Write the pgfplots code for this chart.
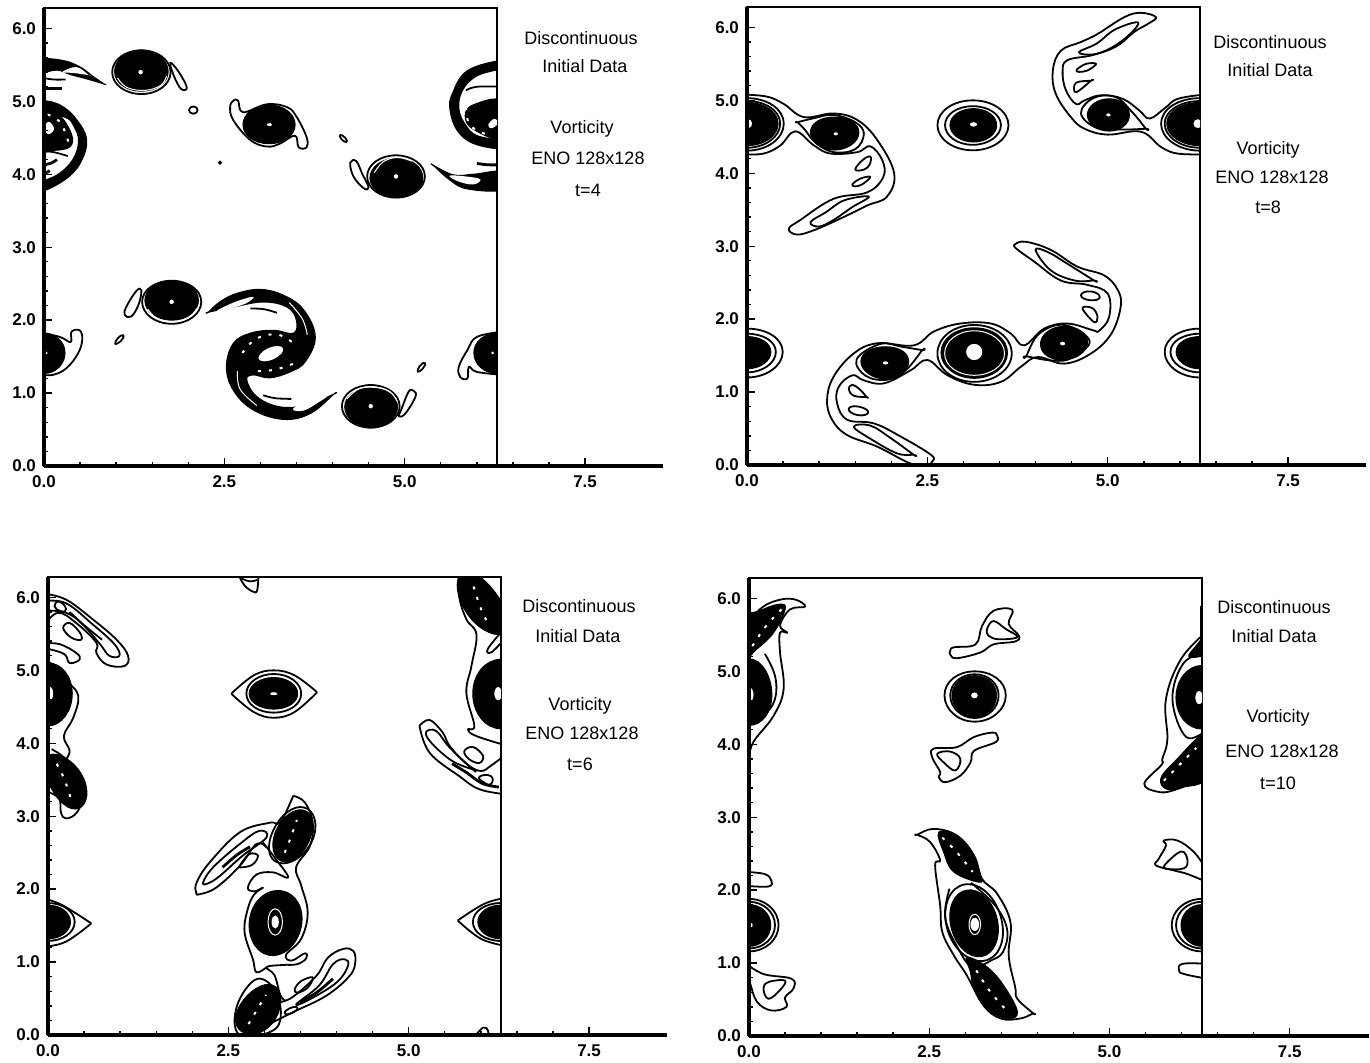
\documentclass[border=0pt]{standalone}
\usepackage{fontspec}
\setmainfont{Liberation Sans}
\usepackage{pgfplots}
\pgfplotsset{compat=1.18}
\tikzset{ln/.style={draw=black,line width=.9pt,line join=round}}
\newcommand\ce[1]{\addplot[ln,smooth cycle,tension=1] coordinates {#1};}
\newcommand\cl[1]{\addplot[ln,smooth cycle,tension=.65] coordinates {#1};}
\newcommand\fb[1]{\addplot[draw=black,fill=black,line width=.6pt,smooth cycle,tension=1] coordinates {#1};}
\newcommand\fp[1]{\addplot[draw=black,fill=black,line width=.6pt,line join=round,smooth cycle,tension=.65] coordinates {#1};}
\newcommand\fw[1]{\addplot[draw=black,fill=white,line width=.5pt,smooth cycle,tension=1] coordinates {#1};}
\newcommand\ho[1]{\addplot[draw=none,fill=white,smooth cycle,tension=1] coordinates {#1};}
\newcommand\hp[1]{\addplot[draw=none,fill=white,smooth cycle,tension=.65] coordinates {#1};}
\newcommand\op[1]{\addplot[ln,smooth,tension=.65] coordinates {#1};}
\newcommand\tk[1]{\addplot[draw=black,line width=1.4pt,smooth,tension=.65] coordinates {#1};}
\newcommand\wl[1]{\addplot[draw=white,line width=.5pt,smooth,tension=.65] coordinates {#1};}
\newcommand\we[1]{\addplot[draw=white,line width=.5pt,smooth cycle,tension=1] coordinates {#1};}
\newcommand\wdt[1]{\addplot[draw=white,line width=1pt,dash pattern=on 1.5pt off 4pt,smooth,tension=.65] coordinates {#1};}
\pgfplotsset{
 cont/.style={scale only axis,width=226.5pt,height=229pt,xmin=0,xmax=6.28,ymin=0,ymax=6.28,
   xtick=\empty,ytick=\empty,axis line style={line width=1.1pt},anchor=south west},
 fram/.style={scale only axis,width=309.5pt,height=229pt,xmin=0,xmax=8.58,ymin=0,ymax=6.28,
   anchor=south west,axis x line*=bottom,axis y line*=left,axis line style={line width=1.6pt},
   xtick={0,2.5,5,7.5},ytick={0,1,2,3,4,5,6},minor x tick num=4,minor y tick num=4,
   tick align=inside,major tick length=4pt,minor tick length=2pt,tick style={line width=.7pt,black},
   tick label style={font=\fontsize{8.5}{9}\selectfont\bfseries,
     /pgf/number format/assume math mode=true,/pgf/number format/fixed,
     /pgf/number format/fixed zerofill,/pgf/number format/precision=1},
   xticklabel style={yshift=-1.5pt},yticklabel style={xshift=-.5pt}}
}
\tikzset{lab/.style={font=\fontsize{9}{10}\selectfont,inner sep=0pt}}
\begin{document}
\begin{tikzpicture}[x=1pt,y=1pt]
\path[use as bounding box] (0,0) rectangle (685,531);
%% ---------- t=4 ----------
\begin{axis}[cont,at={(22pt,298pt)}]
\ce{(1.755,5.40)(1.35,5.70)(.945,5.40)(1.35,5.10)}
\fb{(1.72,5.41)(1.35,5.70)(.98,5.41)(1.35,5.14)}
\wl{(1.02,5.32)(1.15,5.19)(1.40,5.15)(1.62,5.22)(1.70,5.35)}
\fw{(1.38,5.40)(1.34,5.44)(1.30,5.40)(1.34,5.36)}
\cl{(1.75,5.53)(1.87,5.40)(1.98,5.19)(1.90,5.17)(1.80,5.35)}
\cl{(2.58,4.92)(2.625,5.01)(2.69,5.01)(2.76,4.85)(3.09,4.96)(3.37,4.92)(3.50,4.79)(3.64,4.51)(3.64,4.37)(3.53,4.37)(3.48,4.53)(3.27,4.42)(3.09,4.38)(2.86,4.47)(2.625,4.74)}
\fb{(3.48,4.68)(3.12,4.95)(2.76,4.68)(3.12,4.42)}
\fw{(3.17,4.68)(3.125,4.71)(3.08,4.68)(3.125,4.65)}
\ce{(5.28,3.97)(4.88,4.26)(4.48,3.97)(4.88,3.68)}
\fb{(5.25,3.95)(4.89,4.22)(4.52,3.95)(4.89,3.68)}
\wl{(4.58,4.02)(4.70,4.17)(4.90,4.23)(5.10,4.18)}
\fw{(4.92,3.97)(4.88,4.01)(4.84,3.97)(4.88,3.93)}
\cl{(4.245,4.16)(4.33,4.18)(4.41,4.01)(4.50,3.82)(4.43,3.81)(4.29,3.97)}
\ce{(2.18,2.25)(1.77,2.54)(1.36,2.25)(1.77,1.95)}
\fb{(2.14,2.27)(1.77,2.54)(1.40,2.27)(1.77,2.00)}
\wl{(1.44,2.15)(1.56,2.03)(1.78,1.98)(2.00,2.03)(2.12,2.16)}
\fw{(1.81,2.25)(1.77,2.29)(1.73,2.25)(1.77,2.21)}
\cl{(1.35,2.41)(1.28,2.40)(1.14,2.18)(1.12,2.07)(1.21,2.05)(1.31,2.21)}
\ce{(4.93,.82)(4.53,1.11)(4.13,.82)(4.53,.525)}
\fb{(4.90,.81)(4.53,1.07)(4.17,.81)(4.53,.53)}
\wl{(4.20,.92)(4.35,1.05)(4.55,1.08)(4.78,1.03)(4.90,.88)}
\fw{(4.57,.82)(4.53,.86)(4.49,.82)(4.53,.78)}
\cl{(5.125,1.03)(5.055,1.02)(4.96,.79)(4.92,.68)(5.01,.72)(5.15,.95)}
\ce{(2.13,4.88)(2.07,4.93)(2.01,4.88)(2.07,4.83)}
\ce{(4.20,4.46)(4.14,4.53)(4.10,4.52)(4.16,4.45)}
\ce{(1.10,1.76)(1.07,1.79)(.99,1.70)(1.02,1.68)}
\ce{(5.28,1.38)(5.25,1.41)(5.18,1.32)(5.21,1.30)}
\fb{(2.46,4.16)(2.44,4.18)(2.42,4.16)(2.44,4.14)}
% edge vortices y=1.55
\op{(-.05,1.83)(.22,1.77)(.37,1.70)(.38,1.84)(.495,1.86)(.53,1.73)(.47,1.54)(.31,1.34)(.125,1.25)(-.05,1.25)}
\fb{(.29,1.55)(0,1.82)(-.29,1.55)(0,1.27)}
\ho{(.05,1.55)(.03,1.57)(.01,1.55)(.03,1.53)}
\op{(6.35,1.84)(6.0,1.77)(5.87,1.59)(5.75,1.36)(5.77,1.22)(5.87,1.20)(5.89,1.36)(6.0,1.29)(6.35,1.25)}
\fb{(5.96,1.55)(6.28,1.82)(6.6,1.55)(6.28,1.27)}
\ho{(6.24,1.55)(6.22,1.57)(6.20,1.55)(6.22,1.53)}
% crescents
\fp{(-.05,5.57)(.26,5.56)(.5,5.47)(.68,5.34)(.83,5.24)(.83,5.24)(.59,5.31)(.36,5.37)(.18,5.43)(-.05,5.40)}
\hp{(.25,5.40)(.45,5.47)(.62,5.36)(.62,5.36)(.40,5.39)}
\op{(-.05,5.33)(.12,5.30)(.3,5.30)}
\tk{(0,5.18)(.12,5.18)(.25,5.18)}
\fp{(5.40,4.12)(5.40,4.12)(5.68,3.99)(5.96,4.0)(6.35,4.03)(6.35,3.79)(5.87,3.80)(5.63,3.92)}
\hp{(5.62,3.98)(5.85,3.97)(6.05,3.93)(5.95,3.86)(5.75,3.90)}
\tk{(6.0,4.15)(6.15,4.13)(6.35,4.13)}
% left spiral
\fp{(-.05,5.0)(.22,4.95)(.45,4.75)(.59,4.47)(.5,4.15)(.28,3.92)(-.05,3.76)(-.05,3.88)(.2,4.0)(.4,4.2)(.48,4.45)(.42,4.65)(.3,4.78)(-.05,4.85)}
\fp{(-.05,4.88)(.2,4.82)(.38,4.55)(.36,4.38)(.15,4.33)(-.05,4.36)}
\hp{(.14,4.62)(.07,4.72)(0,4.64)(.06,4.55)}
\wdt{(.05,4.82)(.22,4.72)(.32,4.5)(.35,4.38)}
\tk{(0,4.13)(.09,4.15)(.18,4.2)}
\tk{(0,4.0)(.08,4.05)}
\op{(0,4.32)(.15,4.30)(.33,4.25)}
% right spiral
\fp{(6.35,5.56)(5.87,5.42)(5.66,5.10)(5.63,4.88)(5.73,4.60)(5.96,4.42)(6.35,4.35)(6.35,4.45)(6.0,4.53)(5.84,4.68)(5.75,4.90)(5.80,5.15)(6.0,5.35)(6.35,5.46)}
\fp{(6.35,5.0)(5.95,4.95)(5.84,4.80)(5.95,4.62)(6.35,4.5)}
\hp{(6.30,4.70)(6.20,4.63)(6.16,4.68)(6.24,4.76)}
\wdt{(5.85,4.92)(5.88,4.72)(6.0,4.6)(6.2,4.53)}
\op{(5.85,5.15)(6.0,5.2)(6.35,5.2)}
% central spiral
\fp{(2.28,2.11)(2.28,2.11)(2.44,2.25)(2.67,2.365)(3.0,2.42)(3.32,2.34)(3.60,2.14)(3.76,1.77)(3.62,1.43)(3.41,1.29)(3.13,1.21)(2.90,1.25)(2.81,1.18)(2.95,.95)(3.27,.81)(3.64,.835)(4.01,.98)(4.01,.98)(3.69,.72)(3.32,.64)(2.90,.77)(2.625,1.04)(2.53,1.36)(2.625,1.68)(2.86,1.82)(3.18,1.86)(3.46,1.82)(3.50,2.0)(3.37,2.18)(3.04,2.25)(2.625,2.18)}
\hp{(2.40,2.13)(2.65,2.25)(2.90,2.32)(2.80,2.23)(2.55,2.15)}
\hp{(3.92,.96)(3.65,.90)(3.45,.78)(3.60,.76)(3.80,.87)}
\wl{(3.40,2.24)(3.58,2.02)(3.65,1.80)}
\wl{(2.68,1.30)(2.72,1.05)(2.95,.83)}
\fw{(3.32,1.62)(3.10,1.62)(2.97,1.46)(3.19,1.46)}
\wdt{(2.75,1.55)(2.95,1.75)(3.25,1.80)(3.50,1.65)}
\wdt{(3.45,1.40)(3.20,1.32)(2.95,1.30)}
\op{(2.86,2.16)(3.05,2.15)(3.23,2.10)}
\op{(3.04,.97)(3.2,.93)(3.43,.92)}
\end{axis}
\begin{axis}[fram,at={(22pt,298pt)}]
\end{axis}
\node[lab] at (290.5,512) {Discontinuous};
\node[lab] at (292.5,498) {Initial Data};
\node[lab] at (291,466.5) {Vorticity};
\node[lab] at (294,452) {ENO 128x128};
\node[lab] at (294,436) {t=4};
%% ---------- t=8 ----------
\begin{axis}[cont,at={(373.5pt,298.5pt)}]
\ce{(3.625,4.66)(3.13,5.0)(2.64,4.66)(3.13,4.315)}
\ce{(3.52,4.66)(3.13,4.92)(2.745,4.66)(3.13,4.39)}
\fb{(3.46,4.66)(3.14,4.885)(2.815,4.66)(3.14,4.43)}
\ho{(3.19,4.67)(3.14,4.70)(3.09,4.67)(3.14,4.64)}
% left core
\ce{(.51,4.68)(0,5.03)(-.51,4.68)(0,4.31)}
\ce{(.46,4.68)(0,4.99)(-.46,4.68)(0,4.35)}
\fb{(.43,4.68)(0,4.97)(-.43,4.68)(0,4.38)}
\fw{(.08,4.68)(.02,4.75)(-.04,4.68)(.02,4.61)}
% right core
\ce{(5.74,4.68)(6.28,5.03)(6.82,4.68)(6.28,4.31)}
\ce{(5.79,4.68)(6.28,4.99)(6.77,4.68)(6.28,4.35)}
\fb{(5.82,4.68)(6.28,4.97)(6.74,4.68)(6.28,4.38)}
\fw{(6.32,4.68)(6.25,4.75)(6.18,4.68)(6.25,4.61)}
% left chain
\op{(-.05,5.08)(.28,5.05)(.51,4.95)(.79,4.77)(1.20,4.82)(1.53,4.73)(1.81,4.45)(2.04,4.0)(1.94,3.68)(1.67,3.56)(1.34,3.40)(.93,3.22)(.69,3.16)(.58,3.24)(.74,3.36)(1.20,3.65)(1.67,3.74)(1.89,3.95)(1.875,4.18)(1.71,4.37)(1.53,4.29)(1.16,4.27)(.93,4.38)(.67,4.575)(.46,4.38)(.23,4.27)(-.05,4.26)}
\cl{(.70,4.70)(.70,4.70)(.95,4.76)(1.2,4.80)(1.5,4.70)(1.62,4.54)(1.5,4.33)(1.2,4.29)(.95,4.42)(.8,4.6)}
\fb{(.88,4.56)(1.21,4.77)(1.55,4.56)(1.21,4.32)}
\fw{(1.27,4.54)(1.23,4.57)(1.19,4.54)(1.23,4.51)}
\cl{(1.5,4.05)(1.6,4.18)(1.71,4.23)(1.70,4.12)(1.62,4.05)}
\cl{(1.46,3.85)(1.58,3.93)(1.71,3.95)(1.6,3.85)(1.5,3.82)}
\cl{(.88,3.33)(1.1,3.47)(1.35,3.63)(1.69,3.68)(1.45,3.53)(1.2,3.36)(1.0,3.27)}
% upper right
\op{(6.35,4.26)(5.97,4.27)(5.74,4.36)(5.46,4.57)(5.0,4.53)(4.68,4.61)(4.49,4.77)(4.28,5.09)(4.24,5.41)(4.35,5.68)(4.63,5.80)(4.86,5.91)(5.23,6.14)(5.46,6.2)(5.67,6.14)(5.56,6.05)(5.37,5.94)(5.12,5.74)(4.79,5.62)(4.44,5.55)(4.375,5.39)(4.42,5.14)(4.56,4.95)(4.68,5.0)(4.91,5.07)(5.21,5.02)(5.44,4.86)(5.58,4.75)(5.79,4.89)(5.97,5.02)(6.35,5.08)}
\cl{(4.63,4.82)(4.8,5.03)(5.1,5.05)(5.33,4.85)(5.53,4.61)(5.53,4.61)(5.2,4.6)(4.85,4.62)}
\fb{(4.72,4.8)(5.02,5.02)(5.3,4.8)(5.02,4.58)}
\fw{(5.05,4.80)(5.01,4.83)(4.97,4.80)(5.01,4.77)}
\cl{(4.6,5.66)(4.85,5.78)(5.1,5.97)(5.42,6.07)(5.3,5.9)(5.05,5.72)(4.8,5.63)}
\cl{(4.57,5.42)(4.7,5.5)(4.84,5.5)(4.72,5.41)(4.6,5.39)}
\cl{(4.56,5.11)(4.77,5.27)(4.77,5.27)(4.56,5.24)}
% lower chain
\cl{(2.27,.02)(1.81,.25)(1.39,.41)(1.18,.62)(1.11,.89)(1.2,1.21)(1.48,1.53)(1.81,1.67)(2.31,1.64)(2.59,1.83)(2.96,1.94)(3.38,1.94)(3.66,1.80)(3.84,1.64)(4.12,1.87)(4.44,1.94)(4.79,1.85)(4.88,1.84)(5.02,2.03)(5.0,2.35)(4.72,2.47)(4.35,2.53)(3.98,2.79)(3.73,2.97)(3.72,3.03)(3.87,3.06)(4.21,2.95)(4.58,2.72)(4.95,2.60)(5.14,2.40)(5.18,2.17)(5.05,1.80)(4.77,1.53)(4.40,1.39)(4.03,1.48)(3.80,1.35)(3.52,1.14)(3.15,1.10)(2.78,1.23)(2.5,1.44)(2.27,1.30)(1.90,1.12)(1.62,1.16)(1.46,1.23)(1.27,1.07)(1.25,.84)(1.39,.62)(1.76,.57)(2.13,.39)(2.55,.14)(2.57,.05)(2.5,.01)}
\ce{(3.67,1.53)(3.15,1.92)(2.64,1.53)(3.15,1.14)}
\fb{(3.61,1.54)(3.15,1.88)(2.69,1.54)(3.15,1.19)}
\we{(3.57,1.53)(3.15,1.84)(2.74,1.53)(3.15,1.23)}
\fw{(3.27,1.55)(3.15,1.67)(3.03,1.55)(3.15,1.43)}
\ho{(3.23,1.55)(3.15,1.63)(3.07,1.55)(3.15,1.47)}
\cl{(1.52,1.45)(1.85,1.66)(2.15,1.62)(2.43,1.575)(2.43,1.575)(2.2,1.3)(1.95,1.17)(1.65,1.22)}
\fb{(1.58,1.42)(1.92,1.62)(2.24,1.42)(1.92,1.18)}
\fw{(1.97,1.40)(1.92,1.43)(1.87,1.40)(1.92,1.37)}
\cl{(3.87,1.49)(3.87,1.49)(4.05,1.8)(4.4,1.92)(4.75,1.7)(4.5,1.47)(4.25,1.43)}
\fb{(4.07,1.66)(4.39,1.9)(4.72,1.68)(4.38,1.44)}
\fw{(4.42,1.665)(4.375,1.70)(4.33,1.665)(4.375,1.63)}
\ce{(4.63,2.33)(4.77,2.38)(4.89,2.30)(4.75,2.26)}
\cl{(4.65,2.15)(4.79,2.15)(4.86,2.03)(4.81,1.96)}
\cl{(4.0,2.95)(4.17,2.92)(4.44,2.76)(4.81,2.53)(4.81,2.53)(4.54,2.53)(4.21,2.67)}
\cl{(1.46,1.10)(1.56,1.04)(1.66,.93)(1.66,.93)(1.48,.95)(1.41,1.04)}
\ce{(1.41,.77)(1.55,.80)(1.68,.72)(1.53,.685)}
\cl{(1.48,.525)(1.71,.54)(1.99,.37)(2.31,.14)(2.31,.14)(2.08,.16)(1.71,.36)}
% edge vortices
\ce{(.495,1.55)(0,1.87)(-.495,1.55)(0,1.2)}
\ce{(.40,1.55)(0,1.80)(-.40,1.55)(0,1.27)}
\fb{(.33,1.55)(0,1.76)(-.33,1.55)(0,1.32)}
\ce{(5.79,1.55)(6.28,1.87)(6.77,1.55)(6.28,1.2)}
\ce{(5.87,1.55)(6.28,1.80)(6.69,1.55)(6.28,1.27)}
\fb{(5.95,1.55)(6.28,1.76)(6.61,1.55)(6.28,1.32)}
\end{axis}
\begin{axis}[fram,at={(373.5pt,298.5pt)}]
\end{axis}
\node[lab] at (635,510) {Discontinuous};
\node[lab] at (635,496) {Initial Data};
\node[lab] at (634,456) {Vorticity};
\node[lab] at (636,442.5) {ENO 128x128};
\node[lab] at (634,427.5) {t=8};
%% ---------- t=6 ----------
\begin{axis}[cont,at={(24pt,13.5pt)}]
\op{(2.54,4.68)(2.85,4.93)(3.13,5.0)(3.42,4.93)(3.73,4.70)}
\op{(2.54,4.68)(2.85,4.43)(3.13,4.35)(3.42,4.43)(3.73,4.70)}
\ce{(3.51,4.68)(3.13,4.95)(2.75,4.68)(3.13,4.42)}
\fb{(3.46,4.68)(3.13,4.90)(2.79,4.68)(3.13,4.47)}
\ho{(3.18,4.68)(3.13,4.70)(3.08,4.68)(3.13,4.66)}
% left edge eye
\op{(-.05,1.87)(.2,1.78)(.6,1.53)}
\op{(.6,1.53)(.25,1.28)(-.05,1.21)}
\ce{(.37,1.55)(0,1.81)(-.37,1.55)(0,1.29)}
\fb{(.31,1.55)(0,1.78)(-.31,1.55)(0,1.32)}
\op{(6.35,1.88)(6.05,1.80)(5.68,1.57)}
\op{(5.68,1.57)(6.0,1.32)(6.35,1.22)}
\ce{(5.89,1.55)(6.28,1.81)(6.67,1.55)(6.28,1.29)}
\fb{(5.96,1.55)(6.28,1.78)(6.60,1.55)(6.28,1.32)}
% centre vortex
\fb{(3.52,1.57)(3.17,1.98)(2.79,1.53)(3.13,1.09)}
\we{(3.25,1.55)(3.15,1.73)(3.05,1.55)(3.15,1.37)}
\ho{(3.20,1.55)(3.15,1.64)(3.10,1.55)(3.15,1.46)}
\op{(3.40,3.28)(3.56,3.19)(3.67,2.91)(3.63,2.59)(3.44,2.30)(3.51,2.05)(3.60,1.68)(3.51,1.32)(3.30,1.10)(3.38,1.02)(3.56,1.12)(3.58,1.05)(3.45,.97)(3.25,.96)(3.03,.93)(3.14,.82)(3.22,.55)(3.29,.47)}
\op{(3.03,.93)(2.89,.86)(2.84,1.04)(2.725,1.41)(2.77,1.73)(2.86,1.93)(2.98,2.02)(2.86,1.97)(2.77,2.02)(2.89,2.2)(3.12,2.23)(3.33,2.16)(3.16,2.41)(2.98,2.64)}
\op{(3.03,2.57)(2.89,2.62)(2.66,2.32)(2.33,2.02)(2.10,1.93)(2.055,1.95)(2.06,2.09)(2.24,2.365)(2.66,2.78)(3.07,2.91)(3.22,2.92)(3.40,3.28)}
\cl{(2.15,2.09)(2.29,2.30)(2.66,2.62)(2.93,2.80)(3.03,2.71)(2.7,2.46)(2.38,2.18)(2.22,2.08)}
\tk{(2.42,2.30)(2.62,2.47)(2.80,2.58)}
\cl{(2.66,2.32)(2.79,2.48)(2.91,2.46)(2.84,2.34)(2.7,2.30)}
% upper vortex
\fb{(3.25,2.38)(3.16,2.8)(3.55,3.08)(3.62,2.66)}
\wdt{(3.28,2.50)(3.37,2.72)(3.45,2.95)}
\ce{(3.20,2.36)(3.12,2.80)(3.55,3.12)(3.66,2.66)}
% lower vortex
\fb{(2.72,.03)(2.67,.42)(3.12,.68)(3.15,.22)}
\wdt{(2.78,.15)(2.90,.35)(3.02,.55)}
\cl{(2.66,.0)(2.62,.40)(2.9,.77)(3.18,.55)(3.17,.10)}
\op{(3.03,.13)(3.39,.31)(3.86,.54)(4.18,.81)(4.26,1.0)(4.23,1.155)(4.09,1.18)(3.88,1.06)(3.72,.81)(3.39,.52)(3.21,.45)}
\cl{(3.44,.42)(3.76,.68)(3.95,.97)(4.11,1.04)(4.16,.95)(4.0,.72)(3.63,.49)}
\tk{(3.49,.45)(3.72,.58)(3.95,.77)}
\cl{(3.42,.63)(3.51,.74)(3.67,.79)(3.60,.65)(3.46,.58)}
\ce{(3.28,.31)(3.39,.38)(3.46,.36)(3.35,.29)}
% left column
\fb{(.07,3.85)(0,3.48)(.38,3.10)(.5,3.5)}
\wdt{(.12,3.72)(.23,3.5)(.33,3.2)}
\op{(.05,3.92)(.25,3.78)(.45,3.5)(.5,3.3)(.4,3.05)(.25,2.97)(.18,3.05)(.15,3.25)(-.05,3.35)}
\fb{(.335,4.68)(0,5.10)(-.335,4.68)(0,4.24)}
\fw{(.08,4.68)(.03,4.78)(-.02,4.68)(.03,4.58)}
\op{(-.05,5.15)(.1,5.05)(.27,4.85)(.42,4.65)(.35,4.35)(.22,4.1)(.3,3.9)(.25,3.78)}
\op{(-.05,5.37)(.16,5.36)(.39,5.24)(.44,5.15)(.3,5.1)(.23,5.22)(.02,5.29)(-.05,5.29)}
\op{(-.05,6.05)(.25,5.97)(.62,5.70)(.95,5.42)(1.11,5.2)(1.06,5.06)(.81,5.08)(.67,5.24)(.67,5.38)(.39,5.65)(.14,5.79)(-.05,5.62)}
\op{(-.05,5.95)(.25,5.92)(.62,5.63)(.92,5.36)(.99,5.2)(.85,5.2)(.72,5.36)(.48,5.63)(.25,5.79)(-.05,5.82)}
\op{(.3,5.80)(.5,5.62)(.75,5.42)}
\cl{(.21,5.58)(.3,5.65)(.44,5.52)(.46,5.42)(.32,5.45)}
\ce{(.09,5.88)(.16,5.94)(.25,5.84)(.18,5.81)}
% right column
\fb{(5.85,6.35)(5.72,5.95)(6.18,5.5)(6.35,5.8)}
\wdt{(5.90,6.15)(6.0,5.85)(6.12,5.6)}
\fb{(5.89,4.68)(6.28,5.15)(6.67,4.68)(6.28,4.2)}
\fw{(6.30,4.68)(6.24,4.78)(6.18,4.68)(6.24,4.58)}
\op{(5.72,6.35)(5.70,6.02)(5.80,5.70)(5.94,5.49)(5.87,5.06)(5.80,4.69)(5.91,4.24)(5.82,4.19)(5.935,4.10)(6.35,3.97)}
\op{(6.35,5.45)(6.15,5.25)(6.10,5.30)(6.35,5.60)}
\op{(5.15,4.24)(5.29,4.32)(5.47,4.15)(5.57,3.96)(5.80,3.72)(6.0,3.62)(6.15,3.70)(6.35,3.85)}
\op{(5.15,4.24)(5.29,3.87)(5.70,3.55)(5.98,3.37)(6.35,3.30)}
\cl{(5.24,4.15)(5.38,4.17)(5.57,3.94)(5.89,3.64)(5.89,3.64)(5.60,3.76)(5.32,4.0)}
\tk{(5.60,3.72)(5.80,3.60)(6.02,3.45)(6.25,3.40)}
\cl{(5.77,3.89)(5.89,3.95)(6.03,3.83)(5.98,3.73)(5.84,3.78)}
\ce{(5.98,3.54)(6.14,3.55)(6.14,3.44)(6.05,3.46)}
% top and bottom bits
\op{(2.62,6.35)(2.72,6.17)(2.84,6.08)(2.9,6.1)(2.92,6.35)}
\op{(2.68,6.26)(2.8,6.22)(2.9,6.24)}
\op{(5.89,-.05)(6.03,.1)(6.1,.06)(6.1,-.05)}
\end{axis}
\begin{axis}[fram,at={(24pt,13.5pt)},width=309.5pt]
\end{axis}
\node[lab] at (289.5,228) {Discontinuous};
\node[lab] at (289,213) {Initial Data};
\node[lab] at (290,178) {Vorticity};
\node[lab] at (291,164.5) {ENO 128x128};
\node[lab] at (290,149) {t=6};
%% ---------- t=10 ----------
\begin{axis}[cont,at={(374.5pt,13pt)}]
\fb{(3.02,2.0)(2.80,1.50)(3.22,1.09)(3.44,1.60)}
\ce{(3.00,2.08)(2.74,1.50)(3.25,1.03)(3.50,1.60)}
\we{(3.21,1.53)(3.13,1.67)(3.05,1.53)(3.13,1.39)}
\ho{(3.19,1.53)(3.13,1.62)(3.07,1.53)(3.13,1.44)}
\cl{(2.33,2.76)(2.33,2.76)(2.56,2.84)(2.88,2.75)(3.12,2.475)(3.23,2.155)(3.44,1.95)(3.625,1.56)(3.60,1.105)(3.69,.67)(3.72,.51)(3.94,.31)(3.94,.31)(3.76,.24)(3.49,.24)(3.25,.42)(3.02,.83)(2.84,1.105)(2.68,1.425)(2.65,1.79)(2.58,2.34)(2.65,2.41)(2.51,2.66)}
\op{(2.78,2.02)(2.72,1.62)(2.90,1.20)(3.10,.95)(3.38,1.05)}
\op{(3.08,2.10)(3.42,1.78)(3.58,1.45)(3.52,1.15)(3.38,1.05)}
\fp{(2.63,2.795)(2.88,2.75)(3.09,2.52)(3.21,2.2)(3.19,2.11)(2.84,2.25)(2.70,2.52)}
\wdt{(2.68,2.72)(2.88,2.52)(3.10,2.25)}
\fp{(3.02,1.08)(3.30,.945)(3.53,.69)(3.72,.33)(3.58,.24)(3.30,.37)(3.12,.65)(3.07,.88)}
\wdt{(3.15,.9)(3.35,.6)(3.6,.32)}
% island
\ce{(3.56,4.67)(3.13,5.0)(2.71,4.67)(3.13,4.31)}
\ce{(3.46,4.67)(3.13,4.96)(2.79,4.67)(3.13,4.36)}
\fb{(3.43,4.67)(3.13,4.94)(2.815,4.67)(3.13,4.37)}
\fw{(3.18,4.67)(3.125,4.72)(3.07,4.67)(3.125,4.62)}
\cl{(2.79,5.28)(2.84,5.33)(3.14,5.37)(3.23,5.62)(3.39,5.83)(3.65,5.845)(3.60,5.65)(3.74,5.49)(3.69,5.41)(3.39,5.37)(3.21,5.26)(2.88,5.18)(2.79,5.23)}
\cl{(3.30,5.58)(3.39,5.69)(3.56,5.58)(3.72,5.47)(3.46,5.44)(3.32,5.49)}
\cl{(3.44,4.12)(3.37,4.16)(3.12,4.10)(2.88,3.96)(2.56,3.94)(2.54,3.82)(2.65,3.62)(2.63,3.55)(2.72,3.48)(2.93,3.57)(3.07,3.75)(3.12,3.91)(3.42,4.03)}
\cl{(2.61,3.87)(2.79,3.90)(2.93,3.80)(2.86,3.64)(2.70,3.75)}
% left edge
\fb{(.315,4.68)(0,5.17)(-.315,4.68)(0,4.26)}
\fw{(.07,4.68)(.02,4.78)(-.03,4.68)(.02,4.58)}
\op{(.22,5.24)(.36,4.94)(.36,4.62)(.2,4.39)(-.05,4.25)}
\op{(0,3.8)(.06,4.03)(.34,4.39)(.48,4.76)(.43,5.26)(.43,5.53)(.53,5.53)(.43,5.63)(.57,5.85)(.78,5.89)(.62,5.99)(.38,5.97)(.15,5.85)(-.05,5.6)}
\fp{(-.05,5.7)(.2,5.85)(.43,5.92)(.5,5.85)(.34,5.53)(.1,5.3)(-.05,5.2)}
\wdt{(.45,5.85)(.22,5.6)(.03,5.32)}
% right edge
\fb{(5.92,4.64)(6.28,5.08)(6.64,4.64)(6.28,4.21)}
\fw{(6.30,4.64)(6.24,4.74)(6.18,4.64)(6.24,4.54)}
\op{(6.35,5.55)(5.99,5.17)(5.78,4.62)(5.8,4.07)(5.73,3.8)(5.72,3.72)(5.48,3.46)(5.66,3.35)(5.89,3.37)(6.35,3.55)}
\op{(6.35,5.25)(6.03,5.12)(5.87,4.62)(6.06,4.10)(6.35,4.2)}
\fp{(5.71,3.53)(5.89,3.75)(6.35,4.15)(6.35,3.55)(5.99,3.41)(5.78,3.39)}
\wdt{(5.75,3.5)(5.95,3.7)(6.2,3.95)}
\fp{(6.35,5.5)(6.2,5.35)(6.1,5.2)(6.35,5.25)}
\addplot[draw=black,line width=1.6pt] coordinates {(6.27,5.4)(6.27,5.9)};
% edge vortices
\ce{(.41,1.52)(0,1.88)(-.41,1.52)(0,1.16)}
\ce{(.36,1.52)(0,1.84)(-.36,1.52)(0,1.20)}
\fb{(.30,1.52)(0,1.80)(-.30,1.52)(0,1.23)}
\ho{(.05,1.52)(.03,1.55)(.01,1.52)(.03,1.49)}
\ce{(5.86,1.52)(6.28,1.88)(6.70,1.52)(6.28,1.16)}
\ce{(5.92,1.52)(6.28,1.84)(6.64,1.52)(6.28,1.20)}
\fb{(5.99,1.52)(6.28,1.80)(6.57,1.52)(6.28,1.23)}
\op{(-.05,2.25)(.22,2.22)(.31,2.13)(.27,2.05)(-.05,2.06)}
\op{(-.05,1.0)(.2,.85)(.59,.785)(.615,.65)(.5,.53)(.52,.40)(.31,.35)(.11,.47)(.01,.74)(-.05,.9)}
\cl{(.2,.65)(.27,.74)(.5,.76)(.43,.63)(.27,.51)}
\op{(6.35,2.11)(6.08,2.22)(5.89,2.27)(5.64,2.34)(5.68,2.43)(5.78,2.61)(5.75,2.68)(5.94,2.68)(6.17,2.52)(6.35,2.27)}
\cl{(5.76,2.34)(5.99,2.53)(6.08,2.41)(6.03,2.30)(5.81,2.29)}
\op{(6.35,.99)(6.01,.99)(5.96,.90)(6.03,.85)(6.35,.785)}
\end{axis}
\begin{axis}[fram,at={(374.5pt,13pt)},xmax=8.6,width=310pt]
\end{axis}
\node[lab] at (637,227.5) {Discontinuous};
\node[lab] at (637,213) {Initial Data};
\node[lab] at (639,172) {Vorticity};
\node[lab] at (641,155.5) {ENO 128x128};
\node[lab] at (639,139.5) {t=10};
\end{tikzpicture}
\end{document}
